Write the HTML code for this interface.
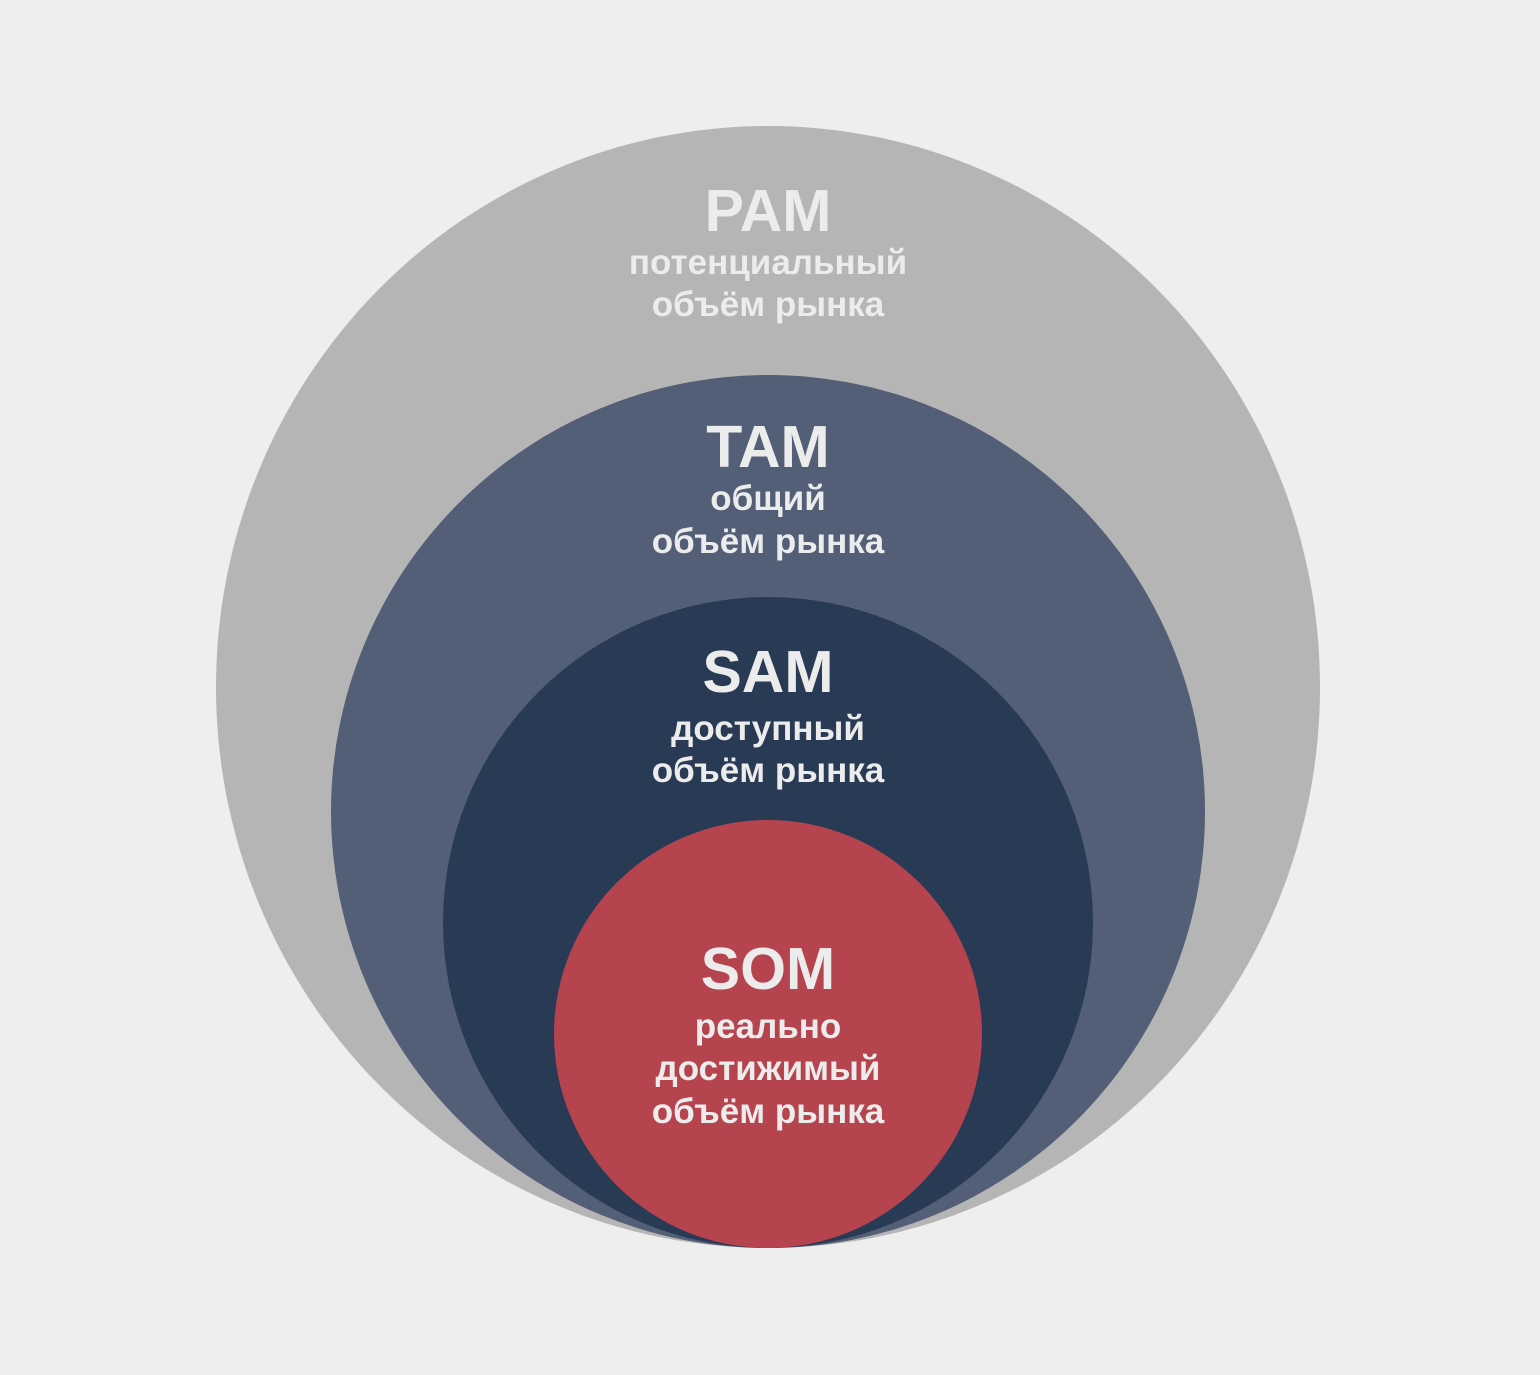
<!DOCTYPE html>
<html><head><meta charset="utf-8"><style>
body{margin:0;background:#eeeeee;}
svg{display:block}
text{font-family:"Liberation Sans",sans-serif;font-weight:bold;fill:#ececec;text-anchor:middle}
.t{font-size:59px}
.s{font-size:35px}
</style></head><body>
<svg width="1540" height="1375" viewBox="0 0 1540 1375">
<rect width="1540" height="1375" fill="#eeeeee"/>
<ellipse cx="768" cy="687" rx="552" ry="561" fill="#b6b5b6"/>
<ellipse cx="768" cy="811.5" rx="437" ry="436.5" fill="#535e77"/>
<ellipse cx="768" cy="922.5" rx="325" ry="325.5" fill="#293a55"/>
<circle cx="768" cy="1034" r="214" fill="#b5444f"/>
<text class="t" x="768" y="231">PAM</text>
<text class="s" x="768" y="274">потенциальный</text>
<text class="s" x="768" y="316">объём рынка</text>
<text class="t" x="768" y="467">TAM</text>
<text class="s" x="768" y="510">общий</text>
<text class="s" x="768" y="553">объём рынка</text>
<text class="t" x="768" y="692">SAM</text>
<text class="s" x="768" y="740">доступный</text>
<text class="s" x="768" y="782">объём рынка</text>
<text class="t" x="768" y="989">SOM</text>
<text class="s" x="768" y="1038">реально</text>
<text class="s" x="768" y="1080">достижимый</text>
<text class="s" x="768" y="1123">объём рынка</text>
</svg>
</body></html>
